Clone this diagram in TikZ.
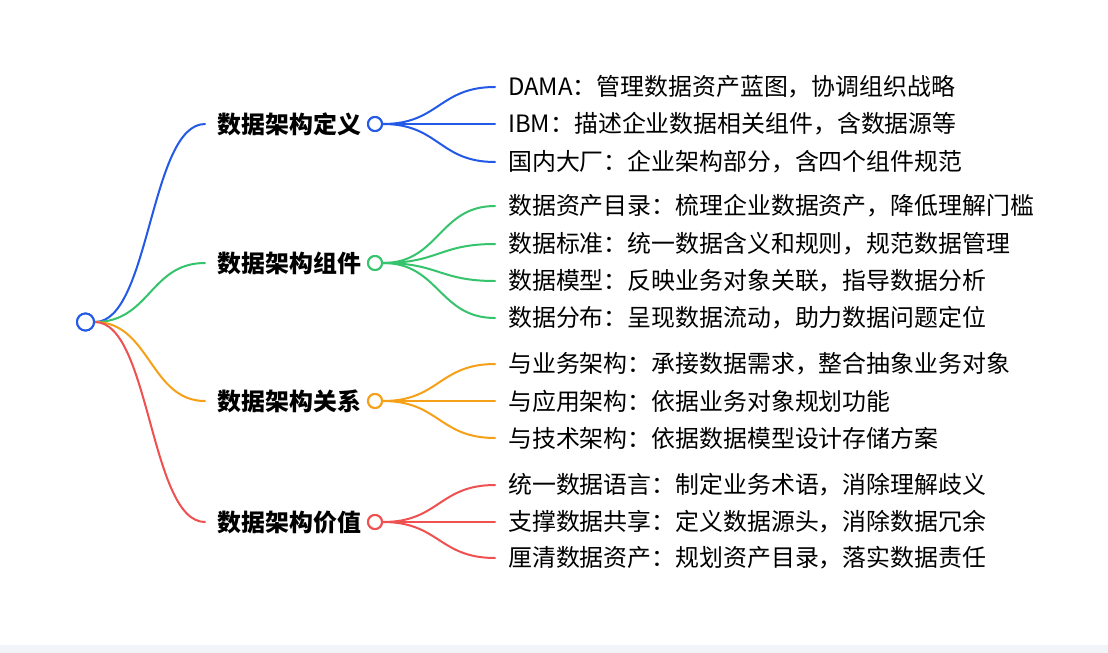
\documentclass[tikz,border=0pt]{standalone}
\usepackage{fontspec}
\setmainfont{Noto Sans CJK SC}
\usepackage{xcolor}
\usetikzlibrary{positioning}
\definecolor{defblue}{HTML}{2259E6}
\definecolor{comgreen}{HTML}{35C46C}
\definecolor{relorange}{HTML}{F5A017}
\definecolor{valred}{HTML}{EF5050}
\definecolor{stripgray}{HTML}{F1F4F9}

\begin{document}
\begin{tikzpicture}[x=1pt, y=-1pt,
  dot/.style={circle, draw, line width=2pt, fill=white, minimum size=14pt, inner sep=0pt},
  rootdot/.style={dot, minimum size=17pt},
  branch/.style={font=\fontsize{23.9}{28}\selectfont\bfseries, anchor=west, inner xsep=12.5pt, inner ysep=0pt, text=black},
  leaf/.style={font=\fontsize{23.9}{28}\selectfont, anchor=west, inner xsep=13pt, inner ysep=0pt, text=black},
  link/.style={line width=2pt, line cap=round}
]
  % Canvas
  \fill[white] (0,0) rectangle (1108,653);
  \fill[stripgray] (0,645) rectangle (1108,653);

  % Root
  \node[rootdot, draw=defblue] (root) at (85.5,322) {};

  % Definition branch
  \node[branch] (defl) at (205,124) {数据架构定义};
  \node[dot, draw=defblue] (defc) at (375,124) {};
  \node[leaf] (def1) at (495,87) {DAMA：管理数据资产蓝图，协调组织战略};
  \node[leaf] (def2) at (495,124) {IBM：描述企业数据相关组件，含数据源等};
  \node[leaf] (def3) at (495,162) {国内大厂：企业架构部分，含四个组件规范};

  % Component branch
  \node[branch] (coml) at (205,263) {数据架构组件};
  \node[dot, draw=comgreen] (comc) at (375,263) {};
  \node[leaf] (com1) at (495,206) {数据资产目录：梳理企业数据资产，降低理解门槛};
  \node[leaf] (com2) at (495,244) {数据标准：统一数据含义和规则，规范数据管理};
  \node[leaf] (com3) at (495,281) {数据模型：反映业务对象关联，指导数据分析};
  \node[leaf] (com4) at (495,318) {数据分布：呈现数据流动，助力数据问题定位};

  % Relation branch
  \node[branch] (rell) at (205,401) {数据架构关系};
  \node[dot, draw=relorange] (relc) at (375,401) {};
  \node[leaf] (rel1) at (495,364) {与业务架构：承接数据需求，整合抽象业务对象};
  \node[leaf] (rel2) at (495,401) {与应用架构：依据业务对象规划功能};
  \node[leaf] (rel3) at (495,438) {与技术架构：依据数据模型设计存储方案};

  % Value branch
  \node[branch] (vall) at (205,522) {数据架构价值};
  \node[dot, draw=valred] (valc) at (375,522) {};
  \node[leaf] (val1) at (495,485) {统一数据语言：制定业务术语，消除理解歧义};
  \node[leaf] (val2) at (495,522) {支撑数据共享：定义数据源头，消除数据冗余};
  \node[leaf] (val3) at (495,558) {厘清数据资产：规划资产目录，落实数据责任};

  % Links from root
  \draw[link, defblue]   (root.east) .. controls +(55,0) and +(-55,0) .. (defl.west);
  \draw[link, comgreen]  (root.east) .. controls +(55,0) and +(-55,0) .. (coml.west);
  \draw[link, relorange] (root.east) .. controls +(55,0) and +(-55,0) .. (rell.west);
  \draw[link, valred]    (root.east) .. controls +(55,0) and +(-55,0) .. (vall.west);

  % Links to leaves
  \draw[link, defblue] (defc.east) .. controls +(56,0) and +(-56,0) .. (def1.west);
  \draw[link, defblue] (defc.east) -- (def2.west);
  \draw[link, defblue] (defc.east) .. controls +(56,0) and +(-56,0) .. (def3.west);

  \draw[link, comgreen] (comc.east) .. controls +(56,0) and +(-56,0) .. (com1.west);
  \draw[link, comgreen] (comc.east) .. controls +(56,0) and +(-56,0) .. (com2.west);
  \draw[link, comgreen] (comc.east) .. controls +(56,0) and +(-56,0) .. (com3.west);
  \draw[link, comgreen] (comc.east) .. controls +(56,0) and +(-56,0) .. (com4.west);

  \draw[link, relorange] (relc.east) .. controls +(56,0) and +(-56,0) .. (rel1.west);
  \draw[link, relorange] (relc.east) -- (rel2.west);
  \draw[link, relorange] (relc.east) .. controls +(56,0) and +(-56,0) .. (rel3.west);

  \draw[link, valred] (valc.east) .. controls +(56,0) and +(-56,0) .. (val1.west);
  \draw[link, valred] (valc.east) -- (val2.west);
  \draw[link, valred] (valc.east) .. controls +(56,0) and +(-56,0) .. (val3.west);

  % Redraw dots over link ends
  \node[rootdot, draw=defblue] at (root) {};
  \node[dot, draw=defblue] at (defc) {};
  \node[dot, draw=comgreen] at (comc) {};
  \node[dot, draw=relorange] at (relc) {};
  \node[dot, draw=valred] at (valc) {};
\end{tikzpicture}
\end{document}
